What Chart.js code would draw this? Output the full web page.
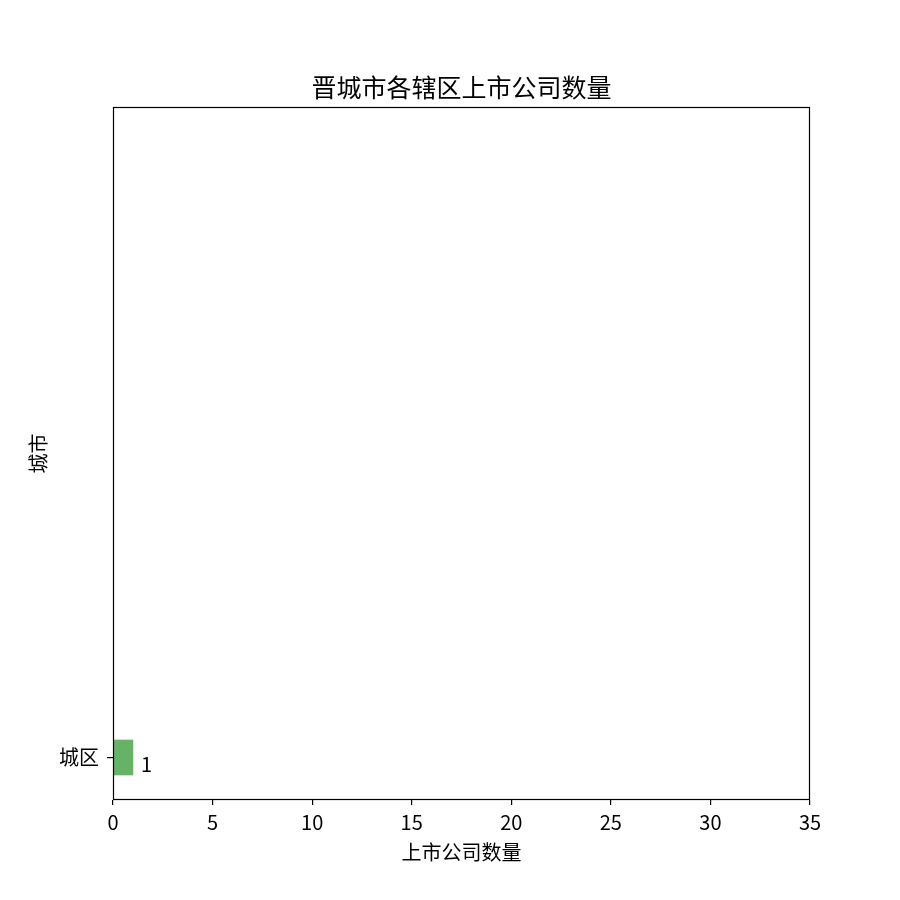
<!DOCTYPE html>
<html>
<head>
<meta charset="utf-8">
<script src="https://cdn.jsdelivr.net/npm/chart.js@4"></script>
<style>
    html, body { margin: 0; padding: 0; background: #fff; }
    #wrap { width: 900px; height: 900px; }
</style>
</head>
<body>
<div id="wrap"><canvas id="chart" width="900" height="900"></canvas></div>
<script>
const FONT = "'Noto Sans CJK SC', 'DejaVu Sans', sans-serif";

const categories = ['城区'];
const values = [1];
const xTicks = [0, 5, 10, 15, 20, 25, 30, 35];

const chartTitle = '晋城市各辖区上市公司数量';
const xLabel = '上市公司数量';
const yLabel = '城市';

// titre, étiquettes d'axes, cadre et valeurs au bout des barres
const decorPlugin = {
    id: 'decor',
    afterDraw(chart) {
        const ctx = chart.ctx;
        const area = chart.chartArea;
        ctx.save();
        ctx.strokeStyle = '#000';
        ctx.lineWidth = 1.2;
        ctx.strokeRect(area.left + 0.5, area.top + 0.5, area.right - area.left - 1, area.bottom - area.top - 1);

        ctx.fillStyle = '#000';
        ctx.textAlign = 'center';
        ctx.textBaseline = 'middle';
        ctx.font = '25px ' + FONT;
        ctx.fillText(chartTitle, (area.left + area.right) / 2, 87);

        ctx.font = '20px ' + FONT;
        ctx.fillText(xLabel, (area.left + area.right) / 2, 852);

        ctx.translate(38, (area.top + area.bottom) / 2);
        ctx.rotate(-Math.PI / 2);
        ctx.fillText(yLabel, 0, 0);
        ctx.restore();

        const meta = chart.getDatasetMeta(0);
        ctx.save();
        ctx.font = '20px ' + FONT;
        ctx.fillStyle = '#000';
        ctx.textAlign = 'left';
        ctx.textBaseline = 'middle';
        meta.data.forEach((bar, i) => {
            ctx.fillText(String(values[i]), bar.x + 8, bar.y + 7);
        });
        ctx.restore();
    }
};

new Chart(document.getElementById('chart'), {
    type: 'bar',
    data: {
        datasets: [{
            data: categories.map((c, i) => ({ x: values[i], y: i })),
            backgroundColor: '#66b366',
            borderWidth: 0,
            barThickness: 35
        }]
    },
    options: {
        indexAxis: 'y',
        responsive: false,
        animation: false,
        layout: { padding: { top: 107, right: 90, left: 0, bottom: 0 } },
        plugins: {
            legend: { display: false },
            tooltip: { enabled: false },
            title: { display: false }
        },
        scales: {
            x: {
                type: 'linear',
                min: 0,
                max: 35,
                afterBuildTicks: scale => { scale.ticks = xTicks.map(v => ({ value: v })); },
                afterFit: scale => { scale.height = 100; },
                grid: { drawOnChartArea: false, drawTicks: true, tickLength: 5, color: '#000', lineWidth: 1.2 },
                border: { display: false },
                ticks: { color: '#000', font: { family: FONT, size: 20 }, padding: 5, maxRotation: 0 }
            },
            y: {
                type: 'linear',
                min: -1,
                max: 15.3,
                offset: false,
                afterBuildTicks: scale => { scale.ticks = categories.map((c, i) => ({ value: i })); },
                afterFit: scale => { scale.width = 113; },
                grid: { offset: false, drawOnChartArea: false, drawTicks: true, tickLength: 6, color: '#000', lineWidth: 1.2 },
                border: { display: false },
                ticks: {
                    color: '#000',
                    font: { family: FONT, size: 20 },
                    padding: 8,
                    callback: v => categories[v] ?? ''
                }
            }
        }
    },
    plugins: [decorPlugin]
});
</script>
</body>
</html>
